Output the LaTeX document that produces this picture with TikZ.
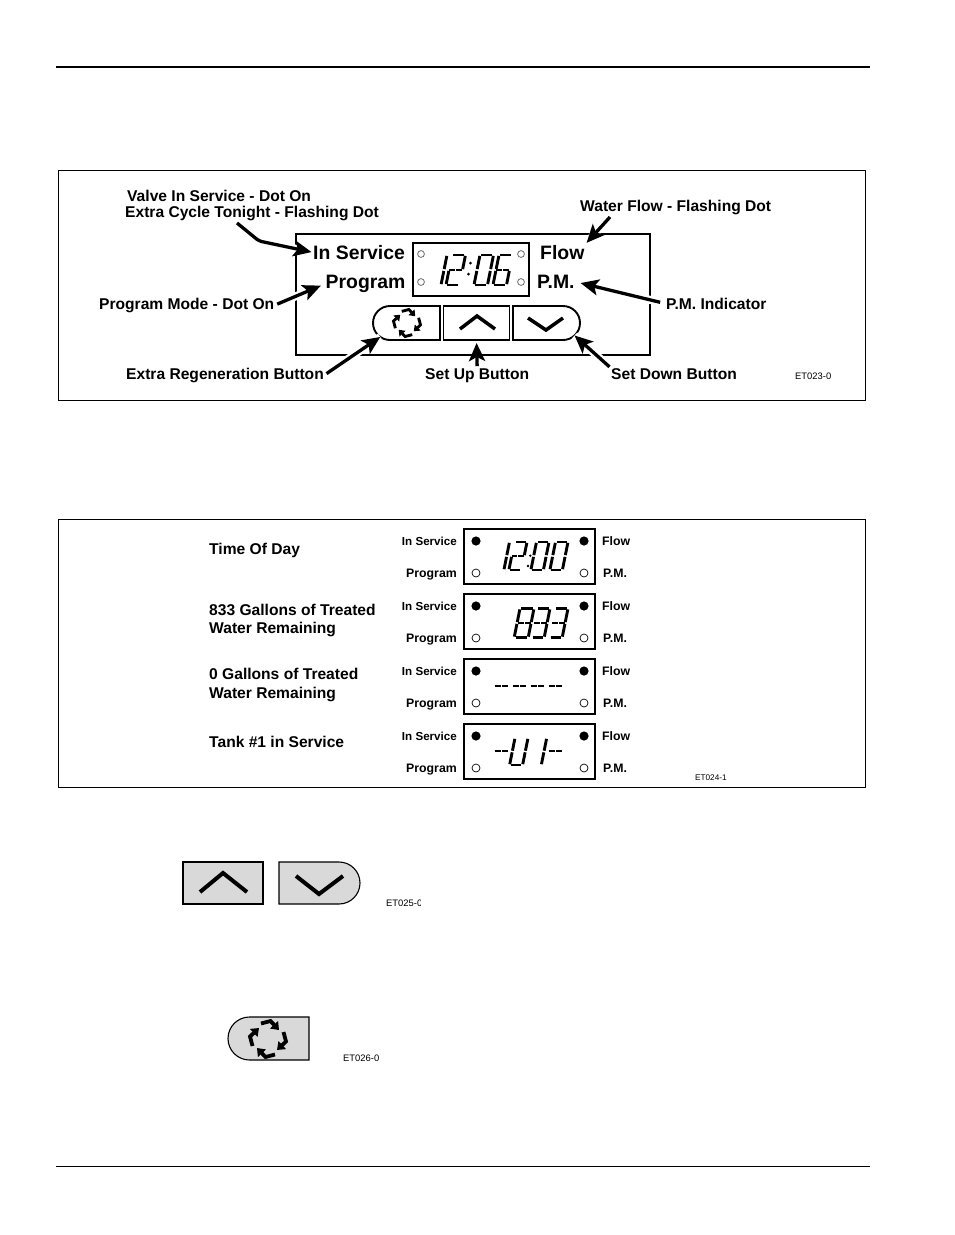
\documentclass[tikz,border=0pt]{standalone}
\usepackage{fontspec}
\setmainfont{Liberation Sans}
\usetikzlibrary{arrows.meta,shapes.misc}
\newcommand{\lcdw}{2.9pt}
\tikzset{
    lbl/.style={font=\fontsize{15.6}{17}\selectfont\bfseries,inner sep=0pt,anchor=base west},
    biglbl/.style={font=\fontsize{19.4}{21}\selectfont\bfseries,inner sep=0pt,anchor=base west},
    smalllbl/.style={font=\fontsize{12.3}{14}\selectfont\bfseries,inner sep=0pt},
    codelbl/.style={font=\fontsize{9.4}{11}\selectfont,inner sep=0pt,anchor=base west},
    ptr/.style={line width=3.3pt,-{Stealth[length=18pt,width=16pt,inset=4pt]},
        preaction={draw=white,line width=8pt,-}},
    lcdseg/.style={line width=\lcdw,line cap=butt},
    sega/.style={insert path={(.1,0)--(.9,0)}},
    segb/.style={insert path={(1,.03)--(1,.47)}},
    segc/.style={insert path={(1,.53)--(1,.97)}},
    segd/.style={insert path={(.1,1)--(.9,1)}},
    sege/.style={insert path={(0,.53)--(0,.97)}},
    segf/.style={insert path={(0,.03)--(0,.47)}},
    segg/.style={insert path={(.03,.5)--(.46,.5) (.54,.5)--(.97,.5)}},
    btn/.style={draw,inner sep=0pt,outer sep=0pt,minimum width=66pt,minimum height=34pt,line width=1.9pt},
    btnleft/.style={btn,rounded rectangle,rounded rectangle east arc=none},
    btnright/.style={btn,rounded rectangle,rounded rectangle west arc=none},
    chev/.style={line width=3.5pt}
}
% one seven segment digit: x, y of top left, width, height, segments
\newcommand{\lcdnum}[5]{%
    \begin{scope}[shift={(#1,#2)},x=#3pt,y=-#4pt,xslant=.2]
        \foreach \seg in {#5} \draw[lcdseg,seg\seg];
    \end{scope}}
% recycle icon: x, y of centre, scale
\newcommand{\recycleicon}[3]{%
    \foreach \ang in {0,90,180,270}
        \draw[line width=#3*3.8pt,-{Triangle[length=0pt 1.9,width=0pt 2.8]},
            shift={(#1,#2)},rotate=\ang,scale=#3]
            (-7,-15.5) -- (2.5,-18) -- (11,-9);}
\begin{document}
\begin{tikzpicture}[x=1pt,y=-1pt]
    \useasboundingbox (0,0) rectangle (954,1235);
    % page rules
    \draw[line width=2pt] (56,67) -- (870,67);
    \draw[line width=1pt] (56,1166) -- (870,1166);
    % frames
    \draw[line width=.8pt] (58,170) rectangle (865.5,400.5);
    \draw[line width=.8pt] (58,519) rectangle (865.5,787.5);

    % main panel
    \draw[line width=2.2pt] (296,234) rectangle (650,355);
    \draw[line width=2pt] (413,243) rectangle (529,296);
    \foreach \dotx in {421,521}
        \foreach \doty in {254,282}
            \draw[black!65,line width=.7pt] (\dotx,\doty) circle (3.4pt);
    \lcdnum{433.5}{255}{13.5}{30}{b,c}
    \lcdnum{452}{255}{13.5}{30}{a,b,g,e,d}
    \lcdnum{480}{255}{13.5}{30}{a,b,c,d,e,f}
    \lcdnum{499}{255}{13.5}{30}{a,c,d,e,f,g}
    \fill (470.5,263) circle (1.5pt) (468.5,274) circle (1.5pt);
    \node[biglbl] (servicelbl) at (313,259.3) {In Service};
    \node[biglbl] (programlbl) at (325.5,288.3) {Program};
    \node[biglbl] (flowlbl) at (540,259.3) {Flow};
    \node[biglbl] (pmlbl) at (537,288.3) {P.M.};

    % buttons
    \node[btnleft,minimum width=67pt] (regenbtn) at (406.5,323) {};
    \node[btn,rectangle] (upbtn) at (476.5,323) {};
    \node[btnright,minimum width=67pt] (downbtn) at (546.5,323) {};
    \recycleicon{407}{323}{.75}
    \draw[chev] (460,329) -- (477,316) -- (495,329);
    \draw[chev] (528,318) -- (546,330) -- (563,318);

    % callouts
    \node[lbl] (valvelbl) at (127,201.2) {Valve In Service - Dot On};
    \node[lbl] (extralbl) at (125,217.7) {Extra Cycle Tonight - Flashing Dot};
    \node[lbl] (waterlbl) at (580,211.7) {Water Flow - Flashing Dot};
    \node[lbl] (modelbl) at (99,309.3) {Program Mode - Dot On};
    \node[lbl] (indicatorlbl) at (666,309.3) {P.M. Indicator};
    \node[lbl] (regenlbl) at (126,379.3) {Extra Regeneration Button};
    \node[lbl] (setuplbl) at (425,379.3) {Set Up Button};
    \node[lbl] (setdownlbl) at (611,379.3) {Set Down Button};
    \node[codelbl] (codeone) at (795,379.3) {ET023-0};
    \coordinate (valvetail) at (237,223);
    \coordinate (valvebend) at (259,241);
    \coordinate (flowtail) at (610,217);
    \draw[ptr,rounded corners=3pt,shorten >=1.5pt] (valvetail) -- (valvebend) -- (servicelbl.west);
    \draw[ptr,shorten <=3pt,shorten >=5pt] (modelbl.east) -- (programlbl.west);
    \draw[ptr,shorten <=3pt] (regenlbl.east) -- (regenbtn.208);
    \draw[ptr,shorten >=3pt] (flowtail) -- (flowlbl.north east);
    \draw[ptr,shorten <=6pt,shorten >=6pt] (indicatorlbl.west) -- (pmlbl.east);
    \draw[ptr,shorten <=2pt,shorten >=3pt] (setuplbl.north) -- (upbtn.south);
    \draw[ptr,shorten <=2pt] (setdownlbl.north west) -- (downbtn.-24);

    % display rows
    \foreach \rowtop/\rowname in {529/a,594/b,659/c,724/d} {
        \draw[line width=1.4pt] (464,\rowtop) rectangle (595,\rowtop+55);
        \fill (476,\rowtop+12) circle (4.6pt);
        \fill (584,\rowtop+12) circle (4.6pt);
        \draw[line width=.7pt] (476,\rowtop+44) circle (4pt);
        \draw[line width=.7pt] (584,\rowtop+44) circle (4pt);
        \node[smalllbl,font=\fontsize{11.6}{14}\selectfont\bfseries,anchor=base east] (service\rowname) at (457,\rowtop+16) {In Service};
        \node[smalllbl,anchor=base east] (program\rowname) at (457,\rowtop+48) {Program};
        \node[smalllbl,anchor=base west] (flow\rowname) at (602,\rowtop+16) {Flow};
        \node[smalllbl,anchor=base west] (pm\rowname) at (603,\rowtop+48) {P.M.};
    }
    \node[lbl] (timelbl) at (209,554) {Time Of Day};
    \node[lbl] (treatedlbl) at (209,615) {833 Gallons of Treated};
    \node[lbl] (remainlbl) at (209,633.5) {Water Remaining};
    \node[lbl] (zerolbl) at (209,679.5) {0 Gallons of Treated};
    \node[lbl] (zeroremainlbl) at (209,698.5) {Water Remaining};
    \node[lbl] (tanklbl) at (209,747) {Tank \#1 in Service};
    \node[codelbl,font=\fontsize{8.2}{10}\selectfont] (codetwo) at (695,780) {ET024-1};
    % 12:00
    \lcdnum{496.5}{542}{13}{28}{b,c}
    \lcdnum{514.5}{542}{12.5}{28}{a,b,g,e,d}
    \lcdnum{536.5}{542}{12.5}{28}{a,b,c,d,e,f}
    \lcdnum{555.5}{542}{12.5}{28}{a,b,c,d,e,f}
    \fill (530.3,555.7) circle (1.3pt) (528,566) circle (1.3pt);
    % 833
    \lcdnum{520}{608.5}{14}{29}{a,b,c,d,e,f,g}
    \lcdnum{537}{608.5}{13}{29}{a,b,c,d,g}
    \lcdnum{555}{608.5}{13}{29}{a,b,c,d,g}
    % dashes
    \foreach \dashx in {497,515,533,551} {
        \lcdnum{\dashx}{672}{14}{28}{g}
    }
    % U1
    \lcdnum{497}{737.5}{14}{27}{g}
    \lcdnum{515}{738}{13}{27}{b,c,d,e,f}
    \lcdnum{533.7}{738}{13}{27}{b,c}
    \lcdnum{551}{737.5}{14}{27}{g}

    % loose up and down buttons
    \node[draw,fill=black!15,line width=1.1pt,inner sep=0pt,minimum width=80pt,minimum height=42pt] (uploose) at (223,883) {};
    \node[draw,fill=black!15,line width=1.1pt,inner sep=0pt,minimum width=81pt,minimum height=42pt,rounded rectangle,rounded rectangle west arc=none] (downloose) at (319.5,883) {};
    \draw[line width=4pt] (200,892) -- (223,873) -- (247,892);
    \draw[line width=4pt] (296,876) -- (319,894) -- (343,876);
    \begin{scope}
        \clip (380,890) rectangle (420,915);
        \node[codelbl] (codethree) at (386,906) {ET025-0};
    \end{scope}

    % loose regeneration button
    \node[draw,fill=black!15,line width=1.1pt,inner sep=0pt,minimum width=81pt,minimum height=43pt,rounded rectangle,rounded rectangle east arc=none] (regenloose) at (268.5,1038.5) {};
    \recycleicon{268}{1039}{1}
    \begin{scope}
        \clip (338,1045) rectangle (378,1070);
        \node[codelbl] (codefour) at (343,1061) {ET026-0};
    \end{scope}
\end{tikzpicture}
\end{document}
